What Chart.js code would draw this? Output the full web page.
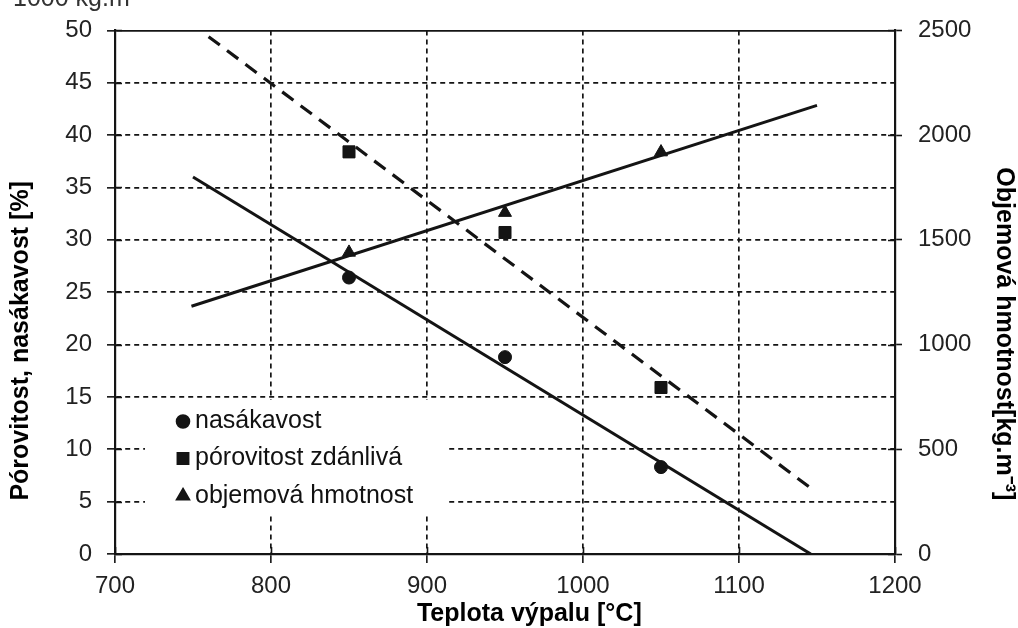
<!DOCTYPE html>
<html>
<head>
<meta charset="utf-8">
<script src="https://cdn.jsdelivr.net/npm/chart.js@4.4.0/dist/chart.umd.min.js"></script>
<style>
  html, body { margin: 0; padding: 0; background: #fff; }
  #wrap { width: 1018px; height: 628px; position: relative; }
</style>
</head>
<body>
<div id="wrap"><canvas id="chart"></canvas></div>
<script>
const teploty = [850, 950, 1050];
const nasakavost = [26.4, 18.8, 8.3];
const porovitost = [38.4, 30.7, 15.9];
const objemovaHmotnost = [1440, 1630, 1919];

// end points of the trend lines
const trendNasX = [750, 1146];
const trendNasY = [36.0, 0];
const trendPorX = [760, 1145];
const trendPorY = [49.4, 6.4];
const trendObjX = [749, 1150];
const trendObjY = [1183, 2142];

const labels = ['nasákavost', 'pórovitost zdánlivá', 'objemová hmotnost'];

const ink = '#141414';
const font = 'Liberation Sans, Arial, sans-serif';

function pts(xs, ys) {
    return xs.map((x, i) => ({ x: x, y: ys[i] }));
}

// plain numbers, no thousands separator
const plain = v => String(v);

// legend inside the plot, inner halves of ticks, cut-off text at the top
const extrasPlugin = {
    id: 'extras',
    afterDatasetsDraw(chart) {
        const { ctx, chartArea, scales } = chart;
        ctx.save();
        ctx.strokeStyle = ink;
        ctx.lineWidth = 1.6;
        ctx.beginPath();
        scales.y.ticks.forEach(t => {
            const py = Math.round(scales.y.getPixelForValue(t.value)) + 0.5;
            ctx.moveTo(chartArea.left, py);
            ctx.lineTo(chartArea.left + 7, py);
        });
        scales.y2.ticks.forEach(t => {
            const py = Math.round(scales.y2.getPixelForValue(t.value)) + 0.5;
            ctx.moveTo(chartArea.right - 7, py);
            ctx.lineTo(chartArea.right, py);
        });
        scales.x.ticks.forEach(t => {
            const px = Math.round(scales.x.getPixelForValue(t.value)) + 0.5;
            ctx.moveTo(px, chartArea.bottom - 7);
            ctx.lineTo(px, chartArea.bottom);
        });
        ctx.stroke();

        // legend
        ctx.fillStyle = '#fff';
        ctx.fillRect(145, 400, 302, 113);
        const rows = [421.5, 458.5, 496];
        ctx.font = '25px ' + font;
        ctx.textBaseline = 'middle';
        ctx.textAlign = 'left';
        for (let i = 0; i < 3; i++) {
            const ds = chart.data.datasets[i];
            ctx.fillStyle = ink;
            ctx.strokeStyle = ink;
            Chart.helpers.drawPoint(ctx, {
                pointStyle: ds.pointStyle,
                radius: ds.legendRadius,
                rotation: 0,
                borderWidth: 1
            }, 183, rows[i]);
            ctx.fillStyle = '#111';
            ctx.fillText(ds.label, 195, rows[i]);
        }
        ctx.restore();
    },
    afterDraw(chart) {
        const ctx = chart.ctx;
        ctx.save();
        ctx.fillStyle = '#333';
        ctx.font = '25px ' + font;
        ctx.textBaseline = 'alphabetic';
        ctx.fillText('1000 kg.m', 13, 6);
        ctx.restore();
    }
};

const ctx = document.getElementById('chart').getContext('2d');
new Chart(ctx, {
    type: 'scatter',
    data: {
        datasets: [
            {
                label: labels[0],
                data: pts(teploty, nasakavost),
                yAxisID: 'y',
                pointStyle: 'circle',
                pointRadius: 6.5,
                legendRadius: 6.5,
                backgroundColor: ink,
                borderColor: ink
            },
            {
                label: labels[1],
                data: pts(teploty, porovitost),
                yAxisID: 'y',
                pointStyle: 'rect',
                pointRadius: 8.5,
                legendRadius: 8,
                backgroundColor: ink,
                borderColor: ink
            },
            {
                label: labels[2],
                data: pts(teploty, objemovaHmotnost),
                yAxisID: 'y2',
                pointStyle: 'triangle',
                pointRadius: 7.5,
                legendRadius: 7.5,
                backgroundColor: ink,
                borderColor: ink
            },
            {
                label: 'trend nasákavost',
                data: pts(trendNasX, trendNasY),
                yAxisID: 'y',
                showLine: true,
                pointRadius: 0,
                borderColor: ink,
                borderWidth: 3
            },
            {
                label: 'trend pórovitost',
                data: pts(trendPorX, trendPorY),
                yAxisID: 'y',
                showLine: true,
                pointRadius: 0,
                borderColor: ink,
                borderWidth: 3.2,
                borderDash: [14, 9]
            },
            {
                label: 'trend objemová hmotnost',
                data: pts(trendObjX, trendObjY),
                yAxisID: 'y2',
                showLine: true,
                pointRadius: 0,
                borderColor: ink,
                borderWidth: 3
            }
        ]
    },
    options: {
        responsive: true,
        maintainAspectRatio: false,
        animation: false,
        layout: { padding: { top: 25, left: 0, right: 0, bottom: 0 } },
        plugins: {
            legend: { display: false },
            tooltip: { enabled: false }
        },
        scales: {
            x: {
                type: 'linear',
                min: 700,
                max: 1200,
                afterFit: s => { s.height = 74; },
                ticks: { stepSize: 100, padding: 9, color: '#222', callback: plain, font: { family: font, size: 24 } },
                grid: { color: ink, lineWidth: 1.7, tickLength: 9, tickColor: ink, tickWidth: 1.6 },
                border: { color: ink, width: 2.2, dash: [5, 4] },
                title: {
                    display: true,
                    text: ' '.repeat(7) + 'Teplota výpalu [°C]',
                    color: '#000',
                    padding: { top: 0, bottom: 1 },
                    font: { family: font, size: 25, weight: 'bold', lineHeight: 1 }
                }
            },
            y: {
                position: 'left',
                min: 0,
                max: 50,
                afterFit: s => { s.width = 115; },
                ticks: { stepSize: 5, padding: 15, color: '#222', callback: plain, font: { family: font, size: 24 } },
                grid: { color: ink, lineWidth: 1.7, tickLength: 8, tickColor: ink, tickWidth: 1.6 },
                border: {
                    color: ink,
                    width: 2.2,
                    dash: c => (c.tick && c.tick.value === 50) ? [] : [5, 4]
                },
                title: {
                    display: true,
                    text: 'Pórovitost, nasákavost [%]' + ' '.repeat(14),
                    color: '#000',
                    padding: { top: 9, bottom: 0 },
                    font: { family: font, size: 25, weight: 'bold', lineHeight: 1 }
                }
            },
            y2: {
                position: 'right',
                min: 0,
                max: 2500,
                afterFit: s => { s.width = 123; },
                ticks: { stepSize: 500, padding: 16, color: '#222', callback: plain, font: { family: font, size: 24 } },
                grid: { drawOnChartArea: false, color: ink, tickLength: 7, tickColor: ink, tickWidth: 1.6 },
                border: { color: ink, width: 2.2 },
                title: {
                    display: true,
                    text: ' '.repeat(12) + 'Objemová hmotnost[kg.m⁻³]',
                    color: '#000',
                    padding: { top: 2, bottom: 0 },
                    font: { family: font, size: 25, weight: 'bold', lineHeight: 1 }
                }
            }
        }
    },
    plugins: [extrasPlugin]
});
</script>
</body>
</html>
